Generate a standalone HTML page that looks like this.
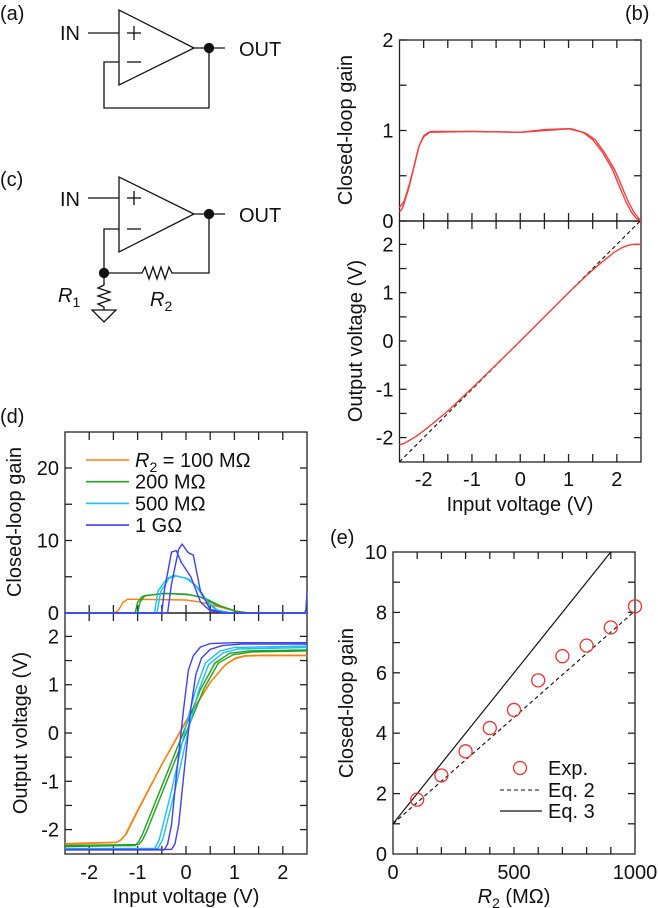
<!DOCTYPE html>
<html><head><meta charset="utf-8"><style>
body{margin:0;background:#fff;}
svg{display:block;font-family:"Liberation Sans",sans-serif;}
.t{font-size:20px;fill:#111;}
.ax{fill:none;stroke:#222;stroke-width:1.3;}
</style></head><body>
<svg id="fig" width="658" height="908" viewBox="0 0 658 908">
<g stroke="#111" stroke-width="1.3" fill="none">
<polygon points="119,10 119,85 194,48"/>
<line x1="88" y1="33" x2="119" y2="33"/>
<line x1="194" y1="48" x2="225" y2="48"/>
<polyline points="119,62 104,62 104,108 209,108 209,48"/>
<line x1="127" y1="33" x2="141" y2="33"/><line x1="134" y1="26" x2="134" y2="40"/>
<line x1="127" y1="62" x2="141" y2="62"/>
<circle cx="209" cy="48" r="4.5" fill="#111"/>
</g>
<text x="0" y="20" class="t">(a)</text>
<text x="60" y="40" class="t">IN</text>
<text x="239" y="56" class="t">OUT</text>
<g stroke="#111" stroke-width="1.3" fill="none">
<polygon points="119,177 119,252 194,214"/>
<line x1="88" y1="198" x2="119" y2="198"/>
<line x1="194" y1="214" x2="225" y2="214"/>
<polyline points="119,229 104,229 104,273 142,273 145,267 149,279 153,267 157,279 161,267 165,279 169,267 172,273 209,273 209,214"/>
<polyline points="104,273 104,285 98,288 110,292 98,296 110,300 98,304 104,307 104,310"/>
<polygon points="92,310 116,310 104,322"/>
<line x1="127" y1="198" x2="141" y2="198"/><line x1="134" y1="191" x2="134" y2="205"/>
<line x1="127" y1="229" x2="141" y2="229"/>
<circle cx="209" cy="214" r="4.5" fill="#111"/>
<circle cx="104" cy="273" r="4.5" fill="#111"/>
</g>
<text x="0" y="186" class="t">(c)</text>
<text x="60" y="206" class="t">IN</text>
<text x="239" y="222" class="t">OUT</text>
<text x="58" y="302" class="t"><tspan font-style="italic">R</tspan><tspan font-size="14" dy="5">1</tspan></text>
<text x="150" y="306" class="t"><tspan font-style="italic">R</tspan><tspan font-size="14" dy="5">2</tspan></text>
<text x="625" y="20" class="t">(b)</text>
<text x="0" y="423" class="t">(d)</text>
<text x="330" y="544" class="t">(e)</text>
</svg>
<script>
// ---- Panel b data ----
const bGainA=[[-2.5,0.1],[-2.45,0.13],[-2.4,0.2],[-2.3,0.38],[-2.2,0.6],[-2.1,0.82],[-2.0,0.94],[-1.9,0.98],[-1,0.99],[0,0.98],[0.5,1.01],[1.0,1.02],[1.3,0.98],[1.5,0.9],[1.7,0.76],[1.9,0.58],[2.0,0.45],[2.1,0.32],[2.2,0.2],[2.3,0.1],[2.4,0.03],[2.5,0]];
const bGainB=[[-2.5,0.15],[-2.4,0.22],[-2.3,0.4],[-2.2,0.6],[-2.1,0.82],[-2.0,0.93],[-1.85,0.99],[-1,0.99],[0,0.98],[0.5,1.0],[1.05,1.02],[1.35,0.97],[1.55,0.9],[1.75,0.75],[1.95,0.57],[2.05,0.45],[2.15,0.32],[2.25,0.2],[2.35,0.1],[2.45,0.03],[2.5,0]];
const bOut=[[-2.5,-2.15],[-2.4,-2.12],[-2.3,-2.06],[-2.15,-1.97],[-2.0,-1.86],[-1.75,-1.66],[-1.5,-1.45],[-1,-0.98],[-0.5,-0.49],[0,0],[0.5,0.5],[1,1],[1.4,1.38],[1.6,1.56],[1.8,1.72],[1.95,1.84],[2.1,1.93],[2.2,1.97],[2.3,1.995],[2.4,2.0],[2.5,2.0]];
const bIdeal=[[-2.5,-2.5],[2.5,2.5]];
// ---- Panel d data ----
const dNames=["R2 = 100 MΩ","200 MΩ","500 MΩ","1 GΩ"];
const dColors=["#ff7f0e","#22a022","#1ec0f0","#4040ee"];
const dGain100=[[[-2.5,0],[-1.5,0],[-1.4,0.3],[-1.3,1.5],[-1.2,1.9],[0,1.8],[0.3,1.5],[0.6,1.0],[1.0,0.3],[1.3,0],[2.5,0]]];
const dGain200=[[[-2.5,0],[-1.05,0],[-1.0,1.5],[-0.9,2.3],[-0.5,2.7],[0,2.6],[0.3,2.2],[0.6,1.2],[1.0,0.3],[1.2,0],[2.5,0]],[[-2.5,0],[-1.0,0],[-0.95,1.5],[-0.85,2.4],[-0.4,2.7],[0.1,2.5],[0.4,2.0],[0.7,1.0],[1.05,0.2],[1.3,0],[2.5,0]]];
const dGain500=[[[-2.5,0],[-0.65,0],[-0.58,3],[-0.4,4.7],[-0.25,5.2],[0,4.8],[0.2,3.8],[0.4,1.8],[0.6,0.5],[0.9,0],[2.5,0]],[[-2.5,0],[-0.6,0],[-0.52,3],[-0.35,4.8],[-0.2,5.1],[0.05,4.7],[0.25,3.5],[0.45,1.5],[0.65,0.4],[0.95,0],[2.5,0]]];
const dGain1G=[[[-2.5,0],[-0.5,0],[-0.45,3],[-0.3,8.4],[-0.2,8.6],[-0.1,7],[0.1,5],[0.3,1.5],[0.5,0.3],[0.8,0],[2.5,0]],[[-2.5,0],[-0.38,0],[-0.3,4],[-0.15,8.8],[-0.08,9.5],[0.05,8.3],[0.15,8],[0.3,3],[0.5,0.5],[0.8,0],[2.45,0],[2.48,0.5],[2.5,3]]];
const dOut100=[[[-2.5,-2.3],[-1.45,-2.27],[-1.35,-2.22],[-1.25,-2.1],[-1.0,-1.6],[-0.5,-0.65],[0,0.25],[0.5,1.05],[0.8,1.4],[1.0,1.53],[1.2,1.59],[1.5,1.6],[2.5,1.6]],[[-2.5,-2.29],[-1.43,-2.26],[-1.33,-2.2],[-1.23,-2.08],[-0.98,-1.58],[-0.48,-0.62],[0.02,0.27],[0.52,1.07],[0.82,1.42],[1.02,1.55],[1.22,1.6],[1.5,1.61],[2.5,1.61]]];
const dOut200=[[[-2.5,-2.35],[-1.05,-2.33],[-0.98,-2.25],[-0.9,-2.1],[-0.5,-1.1],[0,0.15],[0.3,0.9],[0.6,1.45],[0.9,1.65],[1.3,1.7],[2.5,1.72]],[[-2.5,-2.33],[-0.98,-2.31],[-0.91,-2.23],[-0.83,-2.08],[-0.43,-1.08],[0.07,0.17],[0.37,0.92],[0.67,1.45],[0.97,1.62],[1.37,1.68],[2.5,1.7]]];
const dOut500=[[[-2.5,-2.4],[-0.65,-2.4],[-0.55,-2.2],[-0.3,-1.2],[0,0.15],[0.2,0.9],[0.4,1.45],[0.7,1.7],[1.0,1.77],[2.5,1.8]],[[-2.5,-2.39],[-0.58,-2.39],[-0.48,-2.2],[-0.23,-1.2],[0.07,0.15],[0.27,0.9],[0.47,1.42],[0.77,1.66],[1.07,1.74],[2.5,1.77]]];
const dOut1G=[[[-2.5,-2.42],[-0.45,-2.42],[-0.38,-2.3],[-0.3,-1.9],[-0.2,-0.9],[-0.05,0.5],[0.05,1.3],[0.15,1.6],[0.3,1.78],[0.5,1.85],[1,1.87],[2.5,1.87]],[[-2.5,-2.41],[-0.3,-2.41],[-0.23,-2.3],[-0.15,-1.9],[-0.05,-0.9],[0.1,0.5],[0.2,1.2],[0.32,1.55],[0.5,1.73],[0.75,1.81],[1.15,1.84],[2.5,1.84]]];
// ---- Panel e data ----
const eR2=[100,200,300,400,500,600,700,800,900,1000];
const eGain=[1.8,2.6,3.4,4.17,4.77,5.75,6.55,6.9,7.5,8.2];
const eEq2=[[0,1],[1000,8.05]];
const eEq3=[[0,1],[900,10]];
const voltTicks=[-2,-1,0,1,2];
const bGainTicks=[0,1,2];
const dGainTicks=[0,10,20];
const eYTicks=[0,2,4,6,8,10];
const eXTicks=[0,500,1000];

const svg=document.getElementById('fig');
const NS='http://www.w3.org/2000/svg';
function mk(tag,attrs,parent){const e=document.createElementNS(NS,tag);for(const k in attrs)e.setAttribute(k,attrs[k]);(parent||svg).appendChild(e);return e;}
function lin(d0,d1,r0,r1){return v=>r0+(v-d0)*(r1-r0)/(d1-d0);}
function pathD(pts,sx,sy){return pts.map((p,i)=>(i?'L':'M')+sx(p[0]).toFixed(1)+','+sy(p[1]).toFixed(1)).join('');}
function txt(x,y,s,anchor,parent,rot){const t=mk('text',{x:x,y:y,'text-anchor':anchor||'middle',class:'t'},parent);if(rot)t.setAttribute('transform','rotate(-90 '+x+' '+y+')');t.textContent=s;return t;}
function frame(x0,y0,x1,y1,name){const r=mk('rect',{x:x0,y:y0,width:x1-x0,height:y1-y0,class:'ax'});}
function xTicks(sx,vals,yTop,yBot,len,center){vals.forEach(v=>{const x=sx(v);mk('line',{x1:x,y1:yBot,x2:x,y2:yBot-len,stroke:'#222','stroke-width':1.3});mk('line',{x1:x,y1:yTop,x2:x,y2:yTop+len,stroke:'#222','stroke-width':1.3});if(center!==undefined)mk('line',{x1:x,y1:center-len,x2:x,y2:center+len,stroke:'#222','stroke-width':1.3});});}
function yTicks(sy,vals,xL,xR,len){vals.forEach(v=>{const y=sy(v);mk('line',{x1:xL,y1:y,x2:xL+len,y2:y,stroke:'#222','stroke-width':1.3});mk('line',{x1:xR,y1:y,x2:xR-len,y2:y,stroke:'#222','stroke-width':1.3});});}
function curve(pts,sx,sy,color,name,dash,w){const p=mk('path',{d:pathD(pts,sx,sy),fill:'none',stroke:color,'stroke-width':w||1.4,'stroke-linejoin':'round'});if(dash)p.setAttribute('stroke-dasharray',dash);return p;}

// ---------- Panel b ----------
(function(){
const L=399.5,R=641,T=40,M=221,B=462;
const sx=lin(-2.5,2.5,L,R), gy=lin(0,2,M,T), oy=lin(0,1,341,292.7);
xTicks(sx,[-2,-1.5,-1,-0.5,0,0.5,1,1.5,2],T,B,8,M);
yTicks(gy,[0,0.5,1,1.5,2],L,R,7);
yTicks(oy,[-2,-1.5,-1,-0.5,0,0.5,1,1.5,2],L,R,7);
frame(L,T,R,M,'gain-plot-b');frame(L,M,R,B,'output-plot-b');
bGainTicks.forEach(v=>txt(L-6,gy(v)+7,String(v),'end'));
voltTicks.forEach(v=>txt(L-6,oy(v)+7,String(v),'end'));
voltTicks.forEach(v=>txt(sx(v),486,String(v)));
txt(352,130,'Closed-loop gain','middle',null,true);
txt(362,341,'Output voltage (V)','middle',null,true);
txt(520,511,'Input voltage (V)');
curve(bGainA,sx,gy,'#f04040','gain-trace-1-b');
curve(bGainB,sx,gy,'#f04040','gain-trace-2-b');
curve(bIdeal,sx,oy,'#111','ideal-line-b','4,3',1.1);
curve(bOut,sx,oy,'#f04040','output-trace-b');
})();

// ---------- Panel d ----------
(function(){
const L=65,R=307,T=432,M=613,B=854;
const sx=lin(-2.5,2.5,L,R), gy=lin(0,10,M,540.5), oy=lin(0,1,733,684.7);
xTicks(sx,[-2,-1.5,-1,-0.5,0,0.5,1,1.5,2],T,B,8,M);
yTicks(gy,[0,5,10,15,20],L,R,7);
yTicks(oy,[-2,-1.5,-1,-0.5,0,0.5,1,1.5,2],L,R,7);
frame(L,T,R,M,'gain-plot-d');frame(L,M,R,B,'output-plot-d');
dGainTicks.forEach(v=>txt(L-6,gy(v)+7,String(v),'end'));
voltTicks.forEach(v=>txt(L-6,oy(v)+7,String(v),'end'));
voltTicks.forEach(v=>txt(sx(v),879,String(v)));
txt(21,522,'Closed-loop gain','middle',null,true);
txt(27,733,'Output voltage (V)','middle',null,true);
txt(186,903,'Input voltage (V)');
const gains=[dGain100,dGain200,dGain500,dGain1G], outs=[dOut100,dOut200,dOut500,dOut1G];
gains.forEach((s,i)=>s.forEach((tr,j)=>curve(tr,sx,gy,dColors[i],'gain-'+i+'-trace-'+j)));
outs.forEach((s,i)=>s.forEach((tr,j)=>curve(tr,sx,oy,dColors[i],'output-'+i+'-trace-'+j)));
dNames.forEach((n,i)=>{const y=460+i*21.7;const g=mk('g',{});
mk('line',{x1:86,y1:y,x2:129,y2:y,stroke:dColors[i],'stroke-width':1.6},g);
const t=txt(135,y+7,'', 'start',g);
if(i===0){const a=mk('tspan',{'font-style':'italic'},t);a.textContent='R';const b=mk('tspan',{'font-size':14,dy:5},t);b.textContent='2';const c=mk('tspan',{dy:-5},t);c.textContent=' = 100 MΩ';}
else t.textContent=n;});
})();

// ---------- Panel e ----------
(function(){
const L=393,R=635,T=552,B=854;
const sx=lin(0,1000,L,R), sy=lin(0,10,B,T);
xTicks(sx,[100,200,300,400,500,600,700,800,900],T,B,7);
yTicks(sy,[1,2,3,4,5,6,7,8,9],L,R,7);
frame(L,T,R,B,'plot-e');
eYTicks.forEach(v=>txt(L-6,sy(v)+7,String(v),'end'));
eXTicks.forEach(v=>txt(sx(v),879,String(v)));
txt(353,703,'Closed-loop gain','middle',null,true);
const xt=txt(514,903,'');
const a=mk('tspan',{'font-style':'italic'},xt);a.textContent='R';const b=mk('tspan',{'font-size':14,dy:5},xt);b.textContent='2';const c=mk('tspan',{dy:-5},xt);c.textContent=' (MΩ)';
curve(eEq3,sx,sy,'#111','eq3-line',null,1.2);
curve(eEq2,sx,sy,'#111','eq2-line','4,3',1.1);
eR2.forEach((r,i)=>{const ci=mk('circle',{cx:sx(r),cy:sy(eGain[i]),r:6.5,fill:'none',stroke:'#f03030','stroke-width':1.3});
});
mk('circle',{cx:520,cy:768,r:6.5,fill:'none',stroke:'#f03030','stroke-width':1.3});
txt(548,775,'Exp.','start');
mk('line',{x1:500,y1:790,x2:542,y2:790,stroke:'#111','stroke-width':1.1,'stroke-dasharray':'4,3'});
txt(548,797,'Eq. 2','start');
mk('line',{x1:500,y1:811,x2:542,y2:811,stroke:'#111','stroke-width':1.2});
txt(548,818,'Eq. 3','start');
})();
</script>
</body></html>
